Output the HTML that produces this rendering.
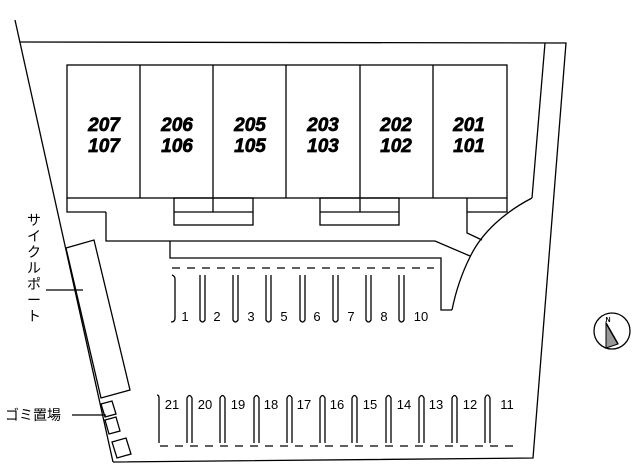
<!DOCTYPE html>
<html><head><meta charset="utf-8"><style>
html,body{margin:0;padding:0;background:#fff;}
svg{display:block;}
.b{font-family:"Liberation Sans",sans-serif;font-weight:bold;font-style:italic;font-size:19px;text-anchor:middle;fill:#000;stroke:#000;stroke-width:0.7;}
.n{font-family:"Liberation Sans",sans-serif;font-size:13px;text-anchor:middle;fill:#000;}
.j{font-family:"Liberation Sans","Noto Sans CJK JP",sans-serif;font-size:14px;fill:#000;}
</style></head><body>
<svg width="640" height="476" viewBox="0 0 640 476" xmlns="http://www.w3.org/2000/svg">
<g fill="none" stroke="#000" stroke-width="1.3">
<line x1="15" y1="20" x2="113" y2="462"/>
<polyline points="20,42 566,43 533,458 113,462"/>
<polyline points="545,43 532,198"/>
<path d="M532,198 C505,212 482,232 470,257 C460,277 455,295 452,310"/>
<polyline points="452,310 441,310 441,258 170,258 170,241"/>
<polyline points="106,212 106,241 435,241 470,256"/>
<polyline points="467,198 467,233 482,240"/>
<rect x="67" y="65" width="440" height="133"/>
<line x1="140" y1="65" x2="140" y2="198"/>
<line x1="213" y1="65" x2="213" y2="212"/>
<line x1="286" y1="65" x2="286" y2="198"/>
<line x1="360" y1="65" x2="360" y2="212"/>
<line x1="433" y1="65" x2="433" y2="198"/>
<polyline points="67,198 67,212 106,212"/>
<rect x="174" y="198" width="79" height="27"/>
<line x1="174" y1="212" x2="253" y2="212"/>
<rect x="320" y="198" width="79" height="27"/>
<line x1="320" y1="212" x2="399" y2="212"/>
<polyline points="467,212 507,212 507,198"/>
<line x1="172" y1="268" x2="434" y2="268" stroke-dasharray="8,7"/>
<line x1="160" y1="446" x2="520" y2="446" stroke-dasharray="8,7"/>
<path d="M172,275 Q175,276 175,279 L175,318 Q175,322 171,322"/>
<path d="M200,275 L200,320 Q202.5,324 205,320 L205,275"/>
<path d="M233,275 L233,320 Q235.5,324 238,320 L238,275"/>
<path d="M266,275 L266,320 Q268.5,324 271,320 L271,275"/>
<path d="M300,275 L300,320 Q302.5,324 305,320 L305,275"/>
<path d="M333,275 L333,320 Q335.5,324 338,320 L338,275"/>
<path d="M366,275 L366,320 Q368.5,324 371,320 L371,275"/>
<path d="M399,275 L399,320 Q401.5,324 404,320 L404,275"/>
<path d="M157,395 Q159,395 159,398 L159,443"/>
<path d="M187,443 L187,398 Q189.5,393 192,398 L192,443"/>
<path d="M220,443 L220,398 Q222.5,393 225,398 L225,443"/>
<path d="M254,443 L254,398 Q256.5,393 259,398 L259,443"/>
<path d="M287,443 L287,398 Q289.5,393 292,398 L292,443"/>
<path d="M320,443 L320,398 Q322.5,393 325,398 L325,443"/>
<path d="M352,443 L352,398 Q354.5,393 357,398 L357,443"/>
<path d="M386,443 L386,398 Q388.5,393 391,398 L391,443"/>
<path d="M419,443 L419,398 Q421.5,393 424,398 L424,443"/>
<path d="M452,443 L452,398 Q454.5,393 457,398 L457,443"/>
<path d="M485,443 L485,398 Q487.5,392 490,398 L490,443"/>
<polygon points="66,248 94,240 130,390 101,398"/>
<line x1="46" y1="290" x2="83" y2="290"/>
<polygon points="101,404 112,401 116,414 105,417"/>
<polygon points="105,420 116,417 120,431 109,434"/>
<polygon points="112,442 126,438 131,454 117,458"/>
<line x1="72" y1="415" x2="106" y2="415"/>
<circle cx="612" cy="331" r="18"/>
</g>
<polygon points="606,323 606,348 618,344" fill="#999" stroke="#000" stroke-width="1"/>
<line x1="606" y1="323" x2="618" y2="344" stroke="#000" stroke-width="1.5"/>
<text x="608" y="322" font-family="Liberation Sans,sans-serif" font-size="7" font-weight="bold" text-anchor="middle">N</text>
<text class="b" x="104" y="131">207</text><text class="b" x="104" y="152">107</text>
<text class="b" x="177" y="131">206</text><text class="b" x="177" y="152">106</text>
<text class="b" x="250" y="131">205</text><text class="b" x="250" y="152">105</text>
<text class="b" x="323" y="131">203</text><text class="b" x="323" y="152">103</text>
<text class="b" x="396" y="131">202</text><text class="b" x="396" y="152">102</text>
<text class="b" x="469" y="131">201</text><text class="b" x="469" y="152">101</text>
<g class="n">
<text x="185" y="321">1</text><text x="217" y="321">2</text><text x="251" y="321">3</text>
<text x="284" y="321">5</text><text x="317" y="321">6</text><text x="351" y="321">7</text>
<text x="384" y="321">8</text><text x="421" y="321">10</text>
<text x="172" y="409">21</text><text x="205" y="409">20</text><text x="238" y="409">19</text>
<text x="271" y="409">18</text><text x="304" y="409">17</text><text x="337" y="409">16</text>
<text x="370" y="409">15</text><text x="404" y="409">14</text><text x="436" y="409">13</text>
<text x="470" y="409">12</text><text x="507" y="409">11</text>
</g>
<g class="j" text-anchor="middle">
<text x="34" y="225">サ</text><text x="34" y="241">イ</text><text x="34" y="257">ク</text>
<text x="34" y="273">ル</text><text x="34" y="289">ポ</text><text x="34" y="305">ー</text><text x="34" y="321">ト</text>
</g>
<text class="j" x="5" y="420">ゴミ置場</text>
</svg>
</body></html>
